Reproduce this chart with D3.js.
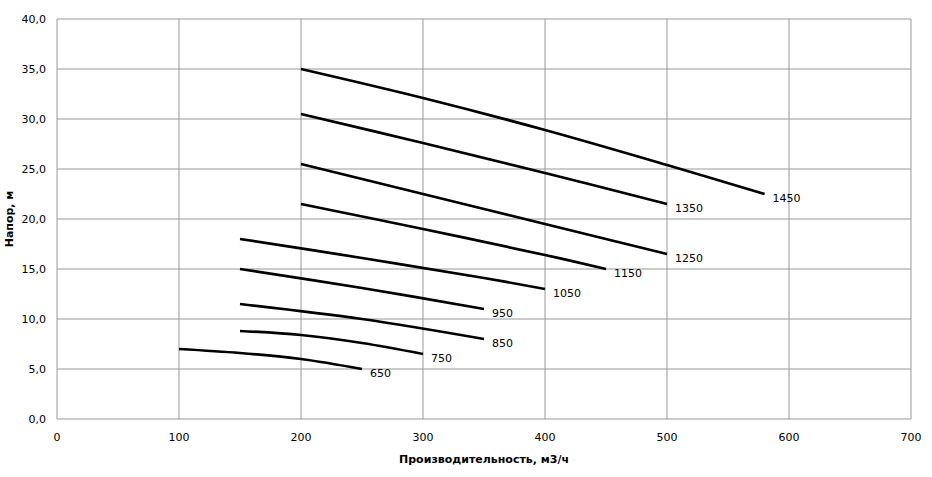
<!DOCTYPE html>
<html><head><meta charset="utf-8">
<script src="https://cdn.jsdelivr.net/npm/d3@7"></script>
<style>body{margin:0;background:#fff}text{font-family:"DejaVu Sans",Verdana,sans-serif}</style>
</head><body><svg id="c" width="932" height="477"></svg>
<script>
const xTicks=[0,100,200,300,400,500,600,700];
const yTicks=[0,5,10,15,20,25,30,35,40];
const seriesNames=["1450","1350","1250","1150","1050","950","850","750","650"];
const seriesX=[
 [200,300,400,500,580],
 [200,300,400,500],
 [200,300,400,500],
 [200,300,400,450],
 [150,250,350,400],
 [150,250,350],
 [150,250,350],
 [150,200,250,300],
 [100,150,200,250]];
const seriesY=[
 [35,32.1,28.9,25.4,22.5],
 [30.5,27.6,24.6,21.5],
 [25.5,22.5,19.5,16.5],
 [21.5,19,16.4,15],
 [18,16.1,14.1,13],
 [15,13.1,11],
 [11.5,10,8],
 [8.8,8.4,7.6,6.5],
 [7,6.6,6,5]];
const svg=d3.select("#c");
const x=d3.scaleLinear().domain([0,700]).range([57,911]);
const y=d3.scaleLinear().domain([0,40]).range([419,19]);
const g=svg.append("g");
g.selectAll(".vx").data(xTicks).join("line").attr("x1",d=>x(d)).attr("x2",d=>x(d)).attr("y1",19).attr("y2",419).attr("stroke","#999");
g.selectAll(".hy").data(yTicks).join("line").attr("y1",d=>y(d)).attr("y2",d=>y(d)).attr("x1",57).attr("x2",911).attr("stroke","#999");
svg.append("g").selectAll("text").data(xTicks).join("text").attr("x",d=>x(d)).attr("y",441).attr("text-anchor","middle").attr("font-size",11).text(d=>d);
svg.append("g").selectAll("text").data(yTicks).join("text").attr("x",46).attr("y",d=>y(d)+4).attr("text-anchor","end").attr("font-size",11).text(d=>d.toFixed(1).replace(".",","));
const line=d3.line().curve(d3.curveCatmullRom);
seriesNames.forEach((n,i)=>{
 const pts=seriesX[i].map((v,j)=>[x(v),y(seriesY[i][j])]);
 svg.append("path").attr("d",line(pts)).attr("fill","none").attr("stroke","#000").attr("stroke-width",2.7);
 const last=pts[pts.length-1];
 svg.append("text").attr("x",last[0]+8).attr("y",last[1]+8).attr("font-size",11).text(n);
});
svg.append("text").attr("x",484).attr("y",463).attr("text-anchor","middle").attr("font-size",11).attr("font-weight","bold").text("Производительность,  м3/ч");
svg.append("text").attr("transform","translate(13,219) rotate(-90)").attr("text-anchor","middle").attr("font-size",11).attr("font-weight","bold").text("Напор, м");
</script></body></html>
